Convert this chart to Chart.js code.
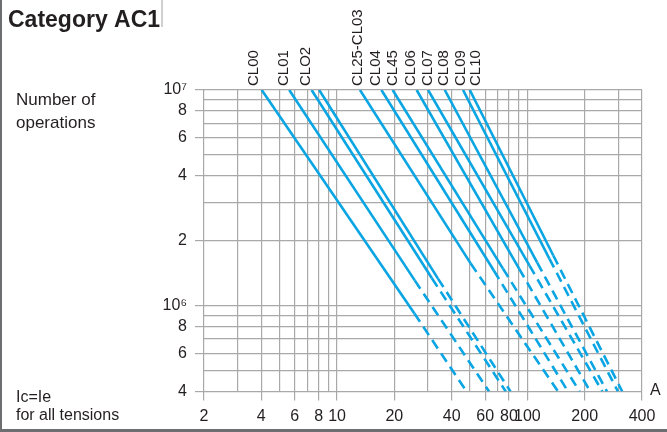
<!DOCTYPE html>
<html>
<head>
<meta charset="utf-8">
<script src="https://cdn.jsdelivr.net/npm/chart.js@4.4.1/dist/chart.umd.min.js"></script>
<style>
  html, body { margin: 0; padding: 0; background: #fff; }
  #box { position: relative; width: 667px; height: 432px; }
</style>
</head>
<body>
<div id="box"><canvas id="grafico" width="667" height="432"></canvas></div>
<script>
const seriesNames = ["CL00", "CL01", "CLO2", "CLO2b", "CL25-CL03", "CL04", "CL45", "CL06", "CL07", "CL08", "CL09", "CL10"];
// current (A) where each line starts, at 10^7 operations
const topCurrent = [4.02, 5.61, 7.35, 8.06, 13.2, 17.1, 19.6, 26.2, 30.1, 36.8, 45.9, 49.8];
// end of the solid part
const kneeCurrent = [25.5, 25.6, 31.5, 33.9, 50.4, 66.6, 74.4, 90.4, 102.6, 112.6, 130.4, 136.8];
const kneeOps = [9.2e5, 1.31e6, 1.34e6, 1.335e6, 1.567e6, 1.456e6, 1.486e6, 1.486e6, 1.535e6, 1.585e6, 1.654e6, 1.708e6];
// current at the bottom of the chart, end of the dashed part
const bottomCurrent = [47.9, 62.9, 77.0, 81.5, 144.9, 163.4, 188, 214, 247.6, 261.8, 299, 315];
const topOps = 1e7;
const bottomOps = 4e5;

const topLabels = ["CL00", "CL01", "CLO2", "CL25-CL03", "CL04", "CL45", "CL06", "CL07", "CL08", "CL09", "CL10"];

const xGrid = [2, 3, 4, 5, 6, 7, 8, 9, 10, 20, 30, 40, 50, 60, 70, 80, 90, 100, 200, 300, 400];
const xLabels = [2, 4, 6, 8, 10, 20, 40, 60, 80, 100, 200, 400];
const yGrid = [4e5, 5e5, 6e5, 7e5, 8e5, 9e5, 1e6, 2e6, 3e6, 4e6, 5e6, 6e6, 7e6, 8e6, 9e6, 1e7];
const yLabelValues = [4e5, 6e5, 8e5, 1e6, 2e6, 4e6, 6e6, 8e6, 1e7];
const yLabelTexts = ["4", "6", "8", "10\u2076", "2", "4", "6", "8", "10\u2077"];

const gridColor = "#a9a9a9";
const lineColor = "#0aa5e2";
const textColor = "#231f20";
const fontFamily = "'Liberation Sans', Arial, sans-serif";

const datasets = seriesNames.map((name, i) => ({
  label: name,
  data: [
    { x: topCurrent[i], y: topOps },
    { x: kneeCurrent[i], y: kneeOps[i] },
    { x: bottomCurrent[i], y: bottomOps }
  ],
  borderColor: lineColor,
  borderWidth: 2.6,
  pointRadius: 0,
  fill: false,
  tension: 0,
  segment: {
    borderDash: ctx => ctx.p0DataIndex >= 1 ? [10, 6] : undefined
  }
}));

const textos = {
  id: "textos",
  afterDraw(chart, args, opts) {
    const ctx = chart.ctx;
    ctx.save();
    ctx.fillStyle = textColor;
    ctx.textBaseline = "alphabetic";

    ctx.font = "bold 23px " + fontFamily;
    ctx.textAlign = "left";
    ctx.fillText("Category AC1", 8, 27);

    ctx.font = "17px " + fontFamily;
    ctx.fillText("Number of", 16, 105);
    ctx.fillText("operations", 16, 128);
    ctx.font = "16px " + fontFamily;
    ctx.fillText("Ic=Ie", 16, 402);
    ctx.fillText("for all tensions", 16, 420);
    ctx.fillText("A", 650, 395);

    // rotated labels above the lines
    ctx.font = "15px " + fontFamily;
    topLabels.forEach((t, i) => {
      ctx.save();
      ctx.translate(opts.labelX[i] + 5, 86);
      ctx.rotate(-Math.PI / 2);
      ctx.textAlign = "left";
      ctx.fillText(t, 0, 0);
      ctx.restore();
    });

    // frame
    ctx.fillStyle = "#6d6e70";
    ctx.fillRect(0, 0, 2, 432);
    ctx.fillRect(0, 429, 667, 3);
    ctx.fillStyle = "#d0d0d0";
    ctx.fillRect(161, 0, 2, 27);
    ctx.restore();
  }
};

new Chart(document.getElementById("grafico"), {
  type: "line",
  data: { datasets },
  options: {
    responsive: false,
    animation: false,
    layout: { padding: { top: 90, right: 25, left: 0, bottom: 0 } },
    plugins: {
      legend: { display: false },
      tooltip: { enabled: false },
      textos: { labelX: [253, 283, 305, 356.7, 375, 391.7, 410, 426.7, 443.3, 460, 475] }
    },
    scales: {
      x: {
        type: "logarithmic",
        min: 2,
        max: 400,
        afterBuildTicks: s => { s.ticks = xGrid.map(v => ({ value: v })); },
        afterFit: s => { s.height = 40.5; },
        ticks: {
          autoSkip: false,
          maxRotation: 0,
          padding: 6,
          color: textColor,
          font: { size: 16, family: fontFamily },
          callback: v => xLabels.includes(v) ? String(v) : ""
        },
        grid: {
          color: gridColor,
          lineWidth: 1.2,
          tickLength: 9,
          tickColor: c => xLabels.includes(c.tick.value) ? gridColor : "rgba(0,0,0,0)"
        },
        border: { display: false }
      },
      y: {
        type: "logarithmic",
        min: 4e5,
        max: 1e7,
        afterBuildTicks: s => { s.ticks = yGrid.map(v => ({ value: v })); },
        afterFit: s => { s.width = 204; },
        ticks: {
          autoSkip: false,
          padding: 8,
          color: textColor,
          font: { size: 16, family: fontFamily },
          callback: v => {
            const i = yLabelValues.indexOf(v);
            return i >= 0 ? yLabelTexts[i] : "";
          }
        },
        grid: {
          color: gridColor,
          lineWidth: 1.2,
          tickLength: 9,
          tickColor: c => yLabelValues.includes(c.tick.value) ? gridColor : "rgba(0,0,0,0)"
        },
        border: { display: false }
      }
    }
  },
  plugins: [textos]
});
</script>
</body>
</html>
